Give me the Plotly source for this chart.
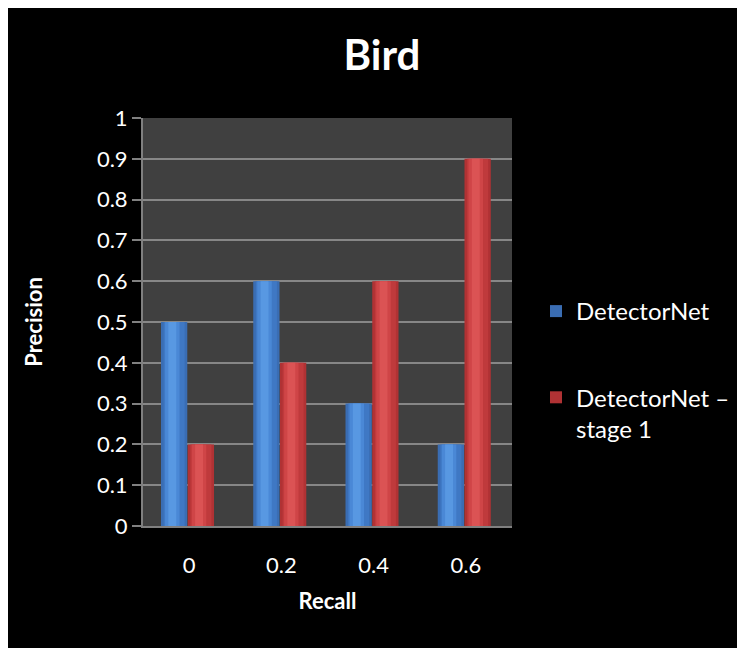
import plotly.graph_objects as go

categories = ["0", "0.2", "0.4", "0.6"]
detectornet = [0.5, 0.6, 0.3, 0.2]
detectornet_stage1 = [0.2, 0.4, 0.6, 0.9]
series_names = ["DetectorNet", "DetectorNet –<br>stage 1"]
y_ticks = [0, 0.1, 0.2, 0.3, 0.4, 0.5, 0.6, 0.7, 0.8, 0.9, 1]
y_tick_labels = ["0", "0.1", "0.2", "0.3", "0.4", "0.5", "0.6", "0.7", "0.8", "0.9", "1"]

# figure sits at the page's 8px body offset; size it to fill the rest of the window
W, H = 737, 640
L, R, T, B = 135, 233, 110, 122
PW, PH = W - L - R, H - T - B
FONT = "Lato, 'Open Sans', sans-serif"
FS = 22

fig = go.Figure()

bar_w = 0.285
series = [
    (detectornet, series_names[0], -0.305, ["#3a6db3", "#3f78c4", "#4a88d6", "#5898e2"], "g1"),
    (detectornet_stage1, series_names[1], -0.015, ["#b03234", "#bf3a3c", "#cf4547", "#db5354"], "g2"),
]
for vals, name, off, shades, grp in series:
    fracs = [1.0, 0.8, 0.55, 0.3]
    for i, (fr, col) in enumerate(zip(fracs, shades)):
        w = bar_w * fr
        o = off + (bar_w - w) / 2 - (0.02 if i >= 2 else 0)
        fig.add_trace(go.Bar(
            x=categories, y=vals, name=name,
            marker=dict(color=col, line=dict(width=0)),
            width=w, offset=o,
            showlegend=(i == 0), legendgroup=grp,
            hoverinfo="skip" if i else None,
        ))

fig.update_layout(
    width=W, height=H,
    barmode="overlay",
    paper_bgcolor="black",
    plot_bgcolor="#404040",
    margin=dict(l=L, r=R, t=T, b=B, autoexpand=False),
    font=dict(family=FONT, color="white", size=FS),
    title=dict(text="<b>Bird</b>", x=374 / W, xref="container", y=1 - 47 / H,
               yref="container", xanchor="center", yanchor="middle",
               font=dict(size=42, color="white", family=FONT)),
    xaxis=dict(
        type="category", showgrid=False, showline=True, linecolor="#808080",
        linewidth=2, ticks="outside", ticklen=19, tickcolor="rgba(0,0,0,0)",
        tickfont=dict(size=FS, color="white"),
        title=dict(text="<b>Recall</b>", font=dict(size=FS, color="white"), standoff=16),
        zeroline=False,
    ),
    yaxis=dict(
        range=[0, 1], tickvals=y_ticks, ticktext=y_tick_labels,
        showgrid=True, gridcolor="#878787", gridwidth=2,
        showline=True, linecolor="#808080", linewidth=2,
        ticks="outside", ticklen=9, tickcolor="#808080", tickwidth=2,
        tickfont=dict(size=FS, color="white"),
        title=dict(text="<b>Precision</b>", font=dict(size=FS, color="white"), standoff=48),
        zeroline=False,
    ),
    legend=dict(
        x=(528 - L) / PW, xanchor="left",
        y=(H - B - 362) / PH, yanchor="middle",
        font=dict(size=24, color="white"), bgcolor="rgba(0,0,0,0)",
        tracegroupgap=52, valign="top", itemwidth=30,
    ),
)

fig.write_html("out.html")
